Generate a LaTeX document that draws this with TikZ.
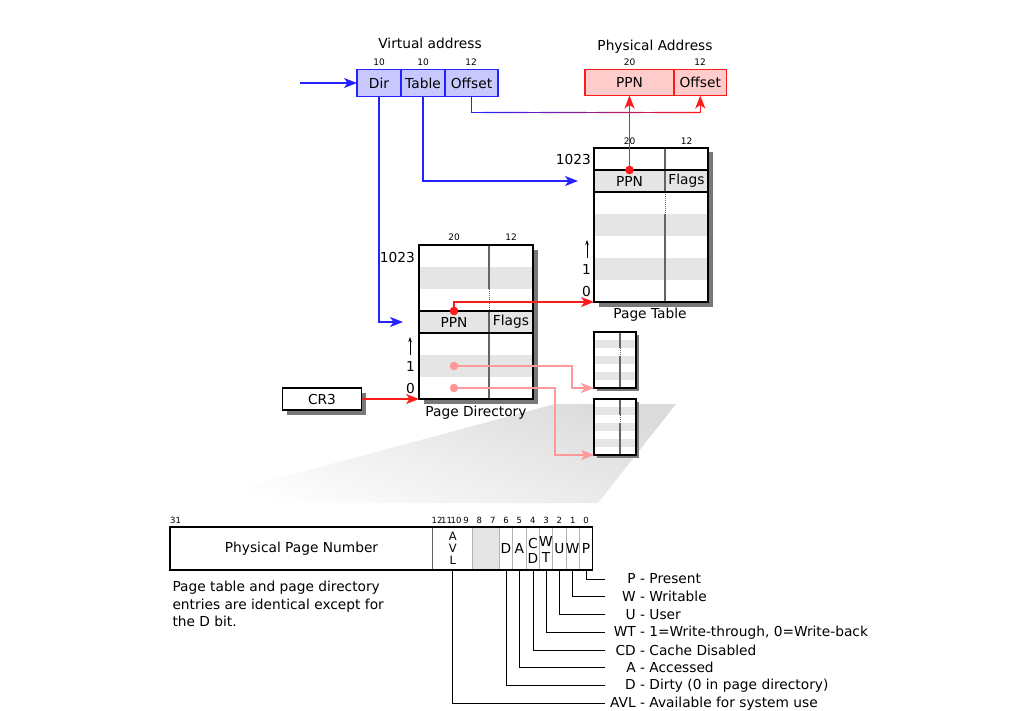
\documentclass[tikz,border=0pt]{standalone}
\usepackage{fontspec}
\setmainfont{DejaVu Sans}
\usetikzlibrary{arrows.meta,positioning,calc}

\definecolor{vblue}{RGB}{35,35,255}
\definecolor{vfill}{RGB}{200,200,255}
\definecolor{pred}{RGB}{255,25,25}
\definecolor{pfill}{RGB}{255,204,204}
\definecolor{lpink}{RGB}{255,153,153}
\definecolor{rowgray}{RGB}{229,229,229}
\definecolor{shadowgray}{RGB}{120,120,120}
\definecolor{divgray}{RGB}{100,100,100}

\tikzset{
  every node/.style={font=\fontsize{13.75}{17}\selectfont},
  smalltext/.style={font=\fontsize{9}{11}\selectfont, inner sep=0pt},
  bitnum/.style={font=\fontsize{8.5}{10}\selectfont, inner sep=0pt},
  vcell/.style={draw=vblue, fill=vfill, line width=1.2pt, minimum height=27pt, inner sep=0pt, outer sep=0pt},
  pcell/.style={draw=pred, fill=pfill, line width=1.2pt, minimum height=26pt, inner sep=0pt, outer sep=0pt},
  tablebox/.style={fill=white, minimum width=114pt, minimum height=154pt, inner sep=0pt, outer sep=0pt, anchor=north west},
  minibox/.style={fill=white, minimum width=42pt, minimum height=56pt, inner sep=0pt, outer sep=0pt, anchor=north west},
  tableline/.style={draw=black, line width=1.3pt},
  divider/.style={draw=divgray, line width=1.3pt},
  rowlabel/.style={anchor=east, inner sep=1pt},
  uparrow/.style={-{Stealth[length=5pt,width=3.5pt]}, line width=0.8pt},
  bluearrow/.style={draw=vblue, line width=1.2pt, -{Stealth[length=13pt,width=10pt,inset=3.5pt]}},
  redarrow/.style={draw=pred, line width=1.2pt, -{Stealth[length=13pt,width=10pt,inset=3.5pt]}},
  pinkarrow/.style={draw=lpink, line width=1.2pt, -{Stealth[length=13pt,width=10pt,inset=3.5pt]}},
  legendline/.style={draw=black, line width=0.9pt},
  legendtext/.style={anchor=west, inner sep=4pt},
}

\begin{document}
\begin{tikzpicture}[x=1pt, y=-1pt]
\useasboundingbox (0,0) rectangle (1024,711);

% zoom wedge
\shade[top color=gray!28, bottom color=white, shading angle=-20] (555,404) -- (676,404) -- (598,503) -- (186,503) -- cycle;

% virtual address
\node (vtitle) at (430,43) {Virtual address};
\node[vcell, minimum width=44pt] (vdir) at (379,83) {Dir};
\node[vcell, minimum width=44pt, right=0pt of vdir] (vtab) {Table};
\node[vcell, minimum width=53pt, right=0pt of vtab] (voff) {Offset};
\node[smalltext] (wdir) at (379,62) {10};
\node[smalltext] (wtab) at (423,62) {10};
\node[smalltext] (woff) at (471,62) {12};
\coordinate (vin) at (300,83);

% physical address
\node (ptitle) at (655,47) {Physical Address};
\node[pcell, minimum width=89pt] (pppn) at (629.5,82.5) {PPN};
\node[pcell, minimum width=52.5pt, right=0pt of pppn] (poff) {Offset};
\node[smalltext] (wppn) at (629.5,62) {20};
\node[smalltext] (wpoff) at (700,62) {12};

% page table
\fill[shadowgray] (598.5,152.5) rectangle (712.5,306.5);
\node[tablebox] (pt) at (594,148) {};
\foreach \r in {4,6}
  \fill[rowgray] (594,{148+22*(\r-1)}) rectangle (708,{148+22*\r});
\fill[rowgray] (594,170) rectangle (708,192);
\draw[divider] (665,148) -- (665,192);
\draw[divider, line width=1pt, densely dotted] (665,192) -- (665,214);
\draw[divider] (665,214) -- (665,302);
\draw[tableline] (594,170) -- (708,170) (594,192) -- (708,192);
\draw[tableline] (pt.north west) rectangle (pt.south east);
\node (ptppn) at (629.5,181) {PPN};
\node (ptflags) at (686.5,181) {Flags};
\node[smalltext] (ptw1) at (629.5,141) {20};
\node[smalltext] (ptw2) at (686.5,141) {12};
\node[rowlabel] (ptlab1023) at (592,159) {1023};
\node[rowlabel] (ptlab1) at (592,269) {1};
\node[rowlabel] (ptlab0) at (592,291) {0};
\draw[uparrow] (587,258) -- (587,240);
\node (ptcap) at (650,315) {Page Table};

% page directory
\fill[shadowgray] (423.5,249.5) rectangle (537.5,403.5);
\node[tablebox] (pd) at (419,245) {};
\foreach \r in {2,6}
  \fill[rowgray] (419,{245+22*(\r-1)}) rectangle (533,{245+22*\r});
\fill[rowgray] (419,311) rectangle (533,333);
\draw[divider] (489,245) -- (489,289);
\draw[divider, line width=1pt, densely dotted] (489,289) -- (489,311);
\draw[divider] (489,311) -- (489,399);
\draw[tableline] (419,311) -- (533,311) (419,333) -- (533,333);
\draw[tableline] (pd.north west) rectangle (pd.south east);
\node (pdppn) at (454,322) {PPN};
\node (pdflags) at (511,322) {Flags};
\node[smalltext] (pdw1) at (454,237) {20};
\node[smalltext] (pdw2) at (511,237) {12};
\node[rowlabel] (pdlab1023) at (416,257) {1023};
\node[rowlabel] (pdlab1) at (416,366) {1};
\node[rowlabel] (pdlab0) at (416,388) {0};
\draw[uparrow] (410,355) -- (410,337);
\node (pdcap) at (476,412.5) {Page Directory};

% CR3
\fill[shadowgray] (286.5,392.5) rectangle (366,414.5);
\node[tableline, fill=white, minimum width=79pt, minimum height=22pt, inner sep=0pt, outer sep=0pt] (cr3) at (322,399) {CR3};

% two small page tables
\foreach \t/\n in {332/sta, 399/stb} {
  \fill[shadowgray] (596.5,{\t+2.5}) rectangle (638.5,{\t+58.5});
  \node[minibox] (\n) at (594,\t) {};
  \foreach \r in {1,3,5}
    \fill[rowgray] (594,{\t+8*\r}) rectangle (636,{\t+8*\r+8});
  \draw[divider] (620,\t) -- (620,{\t+16});
  \draw[divider, line width=1pt, densely dotted] (620,{\t+16}) -- (620,{\t+24});
  \draw[divider] (620,{\t+24}) -- (620,{\t+56});
  \draw[tableline] (\n.north west) rectangle (\n.south east);
}

% connectors
\coordinate (pdin) at (403,322);
\coordinate (ptin) at (578,181);
\draw[bluearrow] (vin) -- (vdir);
\draw[bluearrow] (vdir) |- (pdin);
\draw[bluearrow] (vtab) |- (ptin);

\coordinate (offa) at ($(voff.south)+(0,16)$);
\coordinate (offb) at (poff.south |- offa);
\draw[vblue, line width=1.2pt] (voff) -- (offa);
\foreach \i [evaluate=\i as \fa using \i/20, evaluate=\i as \fb using (\i+1)/20,
             evaluate=\i as \p using int(5*\i+2)] in {0,...,19}
  \draw[pred!\p!vblue, line width=1.2pt, line cap=round] ($(offa)!\fa!(offb)$) -- ($(offa)!\fb!(offb)$);
\draw[redarrow] (offb) -- (poff);

\coordinate (ptdot) at (629.5,170);
\draw[redarrow] (ptdot) -- (pppn);
\fill[pred] (ptdot) circle (4.3pt);

\coordinate (pddot) at (454,311);
\draw[redarrow] (pddot) |- (pt.south west);
\fill[pred] (pddot) circle (4.3pt);

\draw[redarrow] (cr3) -- (pd.south west);

\coordinate (pddot1) at (454,366);
\coordinate (pddot0) at (454,388);
\draw[pinkarrow] (pddot1) -| ([xshift=-22pt]sta.south west) -- (sta.south west);
\draw[pinkarrow] (pddot0) -| ([xshift=-39pt]stb.south west) -- (stb.south west);
\fill[lpink] (pddot1) circle (4.3pt);
\fill[lpink] (pddot0) circle (4.3pt);

% entry format
\fill[gray!20] (472.7,527) rectangle (499.3,570);
\foreach \x in {472.7,499.3,512.7,526,539.3,552.7,566,579.3}
  \draw[gray!60, line width=0.9pt] (\x,527) -- (\x,570);
\draw[divider] (432.7,527) -- (432.7,570);
\node[tableline, minimum width=422.7pt, minimum height=43pt, anchor=north west, inner sep=0pt, outer sep=0pt] (field) at (170,527) {};
\node (tppn) at (301.5,548.5) {Physical Page Number};
\node[align=center, inner sep=1pt, font=\fontsize{11.5}{11.7}\selectfont] (bavl) at (452.7,548.5) {A\\V\\L};
\node (bd) at (506,548.5) {D};
\node (ba) at (519.3,548.5) {A};
\node[align=center, inner sep=1pt, font=\fontsize{13.75}{15}\selectfont] (bcd) at (533,551) {C\\D};
\node[align=center, inner sep=1pt, font=\fontsize{13.75}{16}\selectfont] (bwt) at (546,549.5) {W\\T};
\node (bu) at (559.3,548.5) {U};
\node (bw) at (572.7,548.5) {W};
\node (bp) at (586,548.5) {P};

\foreach \b in {0,...,9}
  \node[bitnum] (bit\b) at ({592.7-13.33*(\b+0.5)},520) {\b};
\node[bitnum] (bit10) at (456,520) {10};
\node[bitnum] (bit11) at (446.5,520) {11};
\node[bitnum] (bit12) at (437,520) {12};
\node[bitnum] (bit31) at (175.5,520) {31};

\node[anchor=north west, align=left, font=\fontsize{13.75}{17.5}\selectfont] (note) at (169,578)
  {Page table and page directory\\entries are identical except for\\the D bit.};

% legend
\node[legendtext] (lp) at (605,579) {\makebox[1.93em][r]{P} - Present};
\node[legendtext] (lw) at (605,596.75) {\makebox[1.93em][r]{W} - Writable};
\node[legendtext] (lu) at (605,614.5) {\makebox[1.93em][r]{U} - User};
\node[legendtext] (lwt) at (605,632.25) {\makebox[1.93em][r]{WT} - 1=Write-through, 0=Write-back};
\node[legendtext] (lcd) at (605,650) {\makebox[1.93em][r]{CD} - Cache Disabled};
\node[legendtext] (la) at (605,667.75) {\makebox[1.93em][r]{A} - Accessed};
\node[legendtext] (ld) at (605,685.5) {\makebox[1.93em][r]{D} - Dirty (0 in page directory)};
\node[legendtext] (lavl) at (605,703.25) {\makebox[1.93em][r]{AVL} - Available for system use};
\draw[legendline] (bp |- field.south) |- (lp.west);
\draw[legendline] (bw |- field.south) |- (lw.west);
\draw[legendline] (bu |- field.south) |- (lu.west);
\draw[legendline] (bwt |- field.south) |- (lwt.west);
\draw[legendline] (bcd |- field.south) |- (lcd.west);
\draw[legendline] (ba |- field.south) |- (la.west);
\draw[legendline] (bd |- field.south) |- (ld.west);
\draw[legendline] (bavl |- field.south) |- (lavl.west);
\end{tikzpicture}
\end{document}
